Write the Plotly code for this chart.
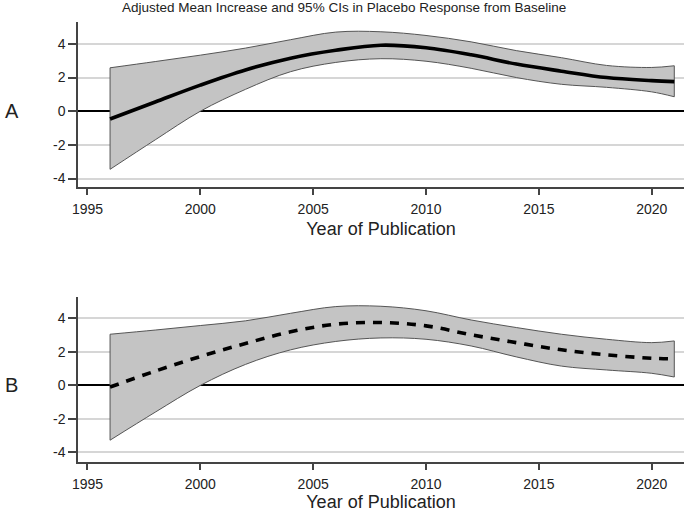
import plotly.graph_objects as go

# ---- data ----
years = [1996, 1998, 2000, 2002, 2004, 2006, 2008, 2010, 2012, 2014, 2016, 2018, 2020, 2021]

a_lower = [-3.45, -1.70, 0.00, 1.30, 2.35, 2.90, 3.12, 2.97, 2.55, 2.00, 1.60, 1.42, 1.15, 0.86]
a_mean  = [-0.46, 0.55, 1.55, 2.45, 3.15, 3.62, 3.92, 3.77, 3.35, 2.80, 2.38, 2.00, 1.82, 1.76]
a_upper = [2.58, 2.95, 3.33, 3.75, 4.25, 4.70, 4.72, 4.50, 4.12, 3.60, 3.18, 2.72, 2.60, 2.70]

b_lower = [-3.27, -1.60, 0.00, 1.25, 2.12, 2.62, 2.83, 2.75, 2.35, 1.70, 1.15, 0.92, 0.72, 0.50]
b_mean  = [-0.10, 0.85, 1.72, 2.50, 3.20, 3.65, 3.75, 3.55, 3.02, 2.55, 2.12, 1.82, 1.62, 1.58]
b_upper = [3.05, 3.30, 3.57, 3.85, 4.30, 4.70, 4.72, 4.45, 3.90, 3.45, 3.05, 2.75, 2.55, 2.65]

x_ticks = [1995, 2000, 2005, 2010, 2015, 2020]
y_ticks = [-4, -2, 0, 2, 4]
y_ticktext = ["-4", "-2", "0", "2", "4"]

title_text = "Adjusted Mean Increase and 95% CIs in Placebo Response from Baseline"
x_title = "Year of Publication"

FONT = "Liberation Sans, Arial, sans-serif"
FILL = "rgb(196,196,196)"
EDGE = "rgb(85,85,85)"

fig = go.Figure()


def add_panel(lower, mean, upper, xa, ya, dash):
    fig.add_trace(go.Scatter(x=years, y=lower, mode="lines", xaxis=xa, yaxis=ya,
                             line=dict(color=EDGE, width=1, shape="spline", smoothing=1.0),
                             hoverinfo="skip", showlegend=False))
    fig.add_trace(go.Scatter(x=years, y=upper, mode="lines", xaxis=xa, yaxis=ya,
                             fill="tonexty", fillcolor=FILL,
                             line=dict(color=EDGE, width=1, shape="spline", smoothing=1.0),
                             hoverinfo="skip", showlegend=False))
    for i in (0, -1):
        fig.add_trace(go.Scatter(x=[years[i], years[i]], y=[lower[i], upper[i]], mode="lines",
                                 xaxis=xa, yaxis=ya, line=dict(color=EDGE, width=1),
                                 hoverinfo="skip", showlegend=False))
    fig.add_trace(go.Scatter(x=years, y=mean, mode="lines", xaxis=xa, yaxis=ya,
                             line=dict(color="black", width=3.6, dash=dash,
                                       shape="spline", smoothing=1.0),
                             showlegend=False))


add_panel(a_lower, a_mean, a_upper, "x", "y", "solid")
add_panel(b_lower, b_mean, b_upper, "x2", "y2", "9px,8px")

xcommon = dict(range=[1994.58, 2021.43], tickvals=x_ticks, ticks="outside", ticklen=6,
               tickwidth=1.5, tickcolor="#444", showline=True, linecolor="#444", linewidth=1.5,
               showgrid=False, zeroline=False, ticklabelstandoff=2,
               tickfont=dict(size=14, color="#222", family=FONT),
               title=dict(text=x_title, font=dict(size=18, color="#222", family=FONT), standoff=7))
ycommon = dict(tickvals=y_ticks, ticktext=y_ticktext, ticks="outside", ticklen=8, tickwidth=1.5,
               tickcolor="#444", showline=True, linecolor="#444", linewidth=1.5,
               showgrid=True, gridcolor="#d6d6d6", gridwidth=1.5,
               zeroline=True, zerolinecolor="black", zerolinewidth=1.5,
               tickfont=dict(size=14, color="#222", family=FONT))

fig.update_layout(
    width=685, height=512,
    margin=dict(l=78, r=1, t=22, b=50),
    paper_bgcolor="white", plot_bgcolor="white",
    font=dict(family=FONT, color="#222"),
    xaxis=dict(**xcommon, anchor="y"),
    yaxis=dict(**ycommon, domain=[0.625, 1.0], range=[-4.5, 5.3], anchor="x"),
    xaxis2=dict(**xcommon, anchor="y2"),
    yaxis2=dict(**ycommon, domain=[0.0, 0.3757], range=[-4.57, 5.29], anchor="x2"),
    annotations=[
        dict(text=title_text, xref="paper", yref="paper", x=0.439, y=1.032, showarrow=False,
             font=dict(size=13.5, color="#222", family=FONT), xanchor="center", yanchor="middle"),
        dict(text="A", xref="paper", yref="y", x=-0.124, y=0, showarrow=False,
             font=dict(size=20, color="#222", family=FONT), xanchor="left", yanchor="middle"),
        dict(text="B", xref="paper", yref="y2", x=-0.124, y=0, showarrow=False,
             font=dict(size=20, color="#222", family=FONT), xanchor="left", yanchor="middle"),
    ],
)

fig.write_html("out.html", config={"displayModeBar": False},
               post_script="document.body.style.margin='0px';")
